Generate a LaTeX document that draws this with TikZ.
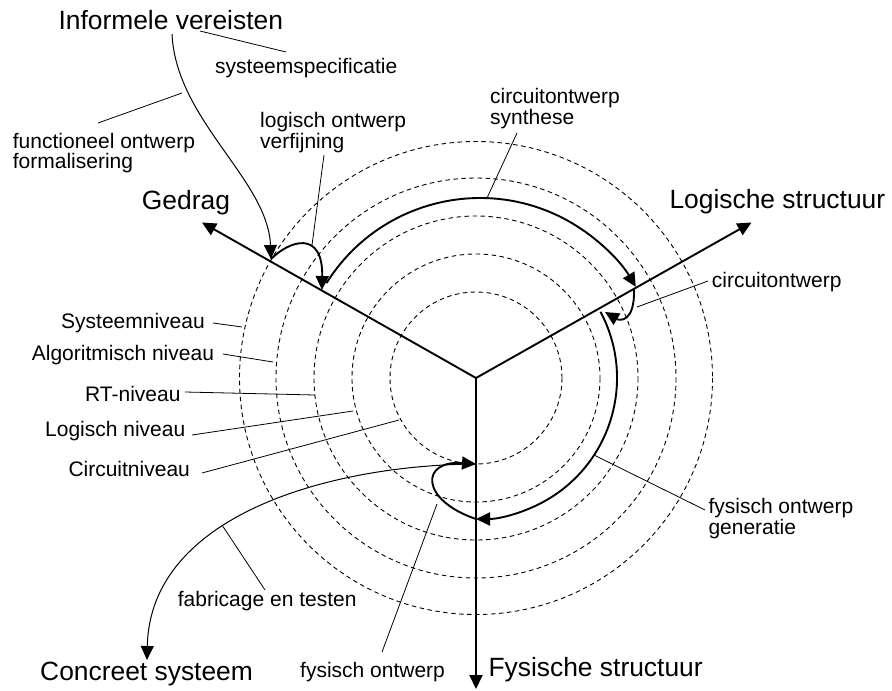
\documentclass[tikz,border=0pt]{standalone}
\usepackage{fontspec}
\setmainfont{Liberation Sans}
\usetikzlibrary{arrows.meta}
% two stacked lines, baseline of the first one is the box baseline
\newcommand{\pairlines}[2]{\vtop{\hbox{#1}\hbox{#2}}}
\begin{document}
\begin{tikzpicture}[x=1pt,y=1pt,yscale=-1,
  ring/.style={line width=0.9pt,dash pattern=on 4.5pt off 3.5pt},
  axis/.style={line width=1.9pt,-{Triangle[length=14pt,width=13pt]}},
  flow/.style={line width=1.9pt,-{Triangle[length=14pt,width=13pt]}},
  thinflow/.style={line width=1pt,-{Triangle[length=14pt,width=13pt]}},
  leader/.style={line width=0.8pt},
  big/.style={font=\fontsize{26.4}{31.7}\selectfont,anchor=base west,inner sep=0pt},
  small/.style={font=\fontsize{21}{20.5}\selectfont,anchor=base west,inner sep=0pt}]
\useasboundingbox (0,0) rectangle (892,691);

% centre of the chart and the five abstraction levels
\coordinate (O) at (476,378);
\foreach \r in {86,124,162,200,236.5}
  \draw[ring] (O) circle[radius=\r];

% the three domain axes
\coordinate (gtip) at (202,222.5);
\coordinate (ltip) at (751.5,222.5);
\coordinate (ftip) at (476,689);
\draw[axis] (O) -- (gtip);
\draw[axis] (O) -- (ltip);
\draw[axis] (O) -- (ftip);

% text labels
\node[big] (informeel) at (58.3,29) {Informele vereisten};
\node[small] (spec) at (215,73.3) {systeemspecificatie};
\node[small] (func) at (12.7,148.3) {\pairlines{functioneel ontwerp}{formalisering}};
\node[small] (logo) at (260,127.7) {\pairlines{logisch ontwerp}{verfijning}};
\node[small] (cs) at (490,103.5) {\pairlines{circuitontwerp}{synthese}};
\node[big] (gedrag) at (141.7,209.3) {Gedrag};
\node[big] (logstr) at (669.3,208.8) {Logische structuur};
\node[small] (co) at (711.7,287.5) {circuitontwerp};
\node[small] (lv1) at (61,328.3) {Systeemniveau};
\node[small] (lv2) at (31.7,360) {Algoritmisch niveau};
\node[small] (lv3) at (85,401.7) {RT-niveau};
\node[small] (lv4) at (45,436.7) {Logisch niveau};
\node[small] (lv5) at (68.3,476) {Circuitniveau};
\node[small] (fog) at (708.3,513.5) {\pairlines{fysisch ontwerp}{generatie}};
\node[small] (fab) at (177.7,606.7) {fabricage en testen};
\node[big] (concreet) at (40,680.5) {Concreet systeem};
\node[small] (fo) at (300,677) {fysisch ontwerp};
\node[big] (fys) at (488.3,676.7) {Fysische structuur};

% points where the design flow meets the axes
\coordinate (req) at (172,34);
\coordinate (g1) at (271,259);
\coordinate (g2) at (322,290);
\coordinate (a1) at (326.5,283.1);
\coordinate (l1) at (634,289);
\coordinate (l2) at (605,312);
\coordinate (a2) at (600.5,311.8);
\coordinate (f1) at (476,519);
\coordinate (f2) at (476,464);
\coordinate (cend) at (147,660);

% design flow
\draw[thinflow] (req) .. controls (176,120) and (268,180) .. (g1);
\draw[flow] (g1) .. controls (290,240) and (323,230) .. (g2);
\draw[flow] (a1) arc[start angle=212,end angle=329.4,radius=181];
\draw[flow] (l1) .. controls (635,322) and (620,321) .. (l2);
\draw[flow] (a2) arc[start angle=-28,end angle=90,radius=141];
\draw[thinflow] (f2) .. controls (330,465) and (150,515) .. (cend);
\draw[flow] (f1) .. controls (420,500) and (420,460) .. (f2);

% leader lines from labels
\coordinate (p1) at (200,31);   \coordinate (q1) at (286,52);
\coordinate (p2) at (98,123);   \coordinate (q2) at (182,93);
\coordinate (p3) at (324,155);  \coordinate (q3) at (312,245);
\coordinate (p4) at (517,133);  \coordinate (q4) at (487,198);
\coordinate (p5) at (708,281);  \coordinate (q5) at (637,307);
\coordinate (p6) at (705,510);  \coordinate (q6) at (594,455);
\coordinate (p7) at (382,652);  \coordinate (q7) at (437,504);
\coordinate (p8) at (265,590);  \coordinate (q8) at (222,525);
\draw[leader] (p1) -- (q1);
\draw[leader] (p2) -- (q2);
\draw[leader] (p3) -- (q3);
\draw[leader] (p4) -- (q4);
\draw[leader] (p5) -- (q5);
\draw[leader] (p6) -- (q6);
\draw[leader] (p7) -- (q7);
\draw[leader] (p8) -- (q8);

% leaders to the level rings
\coordinate (r1) at (213,323);  \coordinate (s1) at (242,327);
\coordinate (r2) at (223,354);  \coordinate (s2) at (273,362);
\coordinate (r3) at (185,392);  \coordinate (s3) at (315,395);
\coordinate (r4) at (192,435);  \coordinate (s4) at (353,411);
\coordinate (r5) at (202,473);  \coordinate (s5) at (399,420);
\draw[leader] (r1) -- (s1);
\draw[leader] (r2) -- (s2);
\draw[leader] (r3) -- (s3);
\draw[leader] (r4) -- (s4);
\draw[leader] (r5) -- (s5);
\end{tikzpicture}
\end{document}
